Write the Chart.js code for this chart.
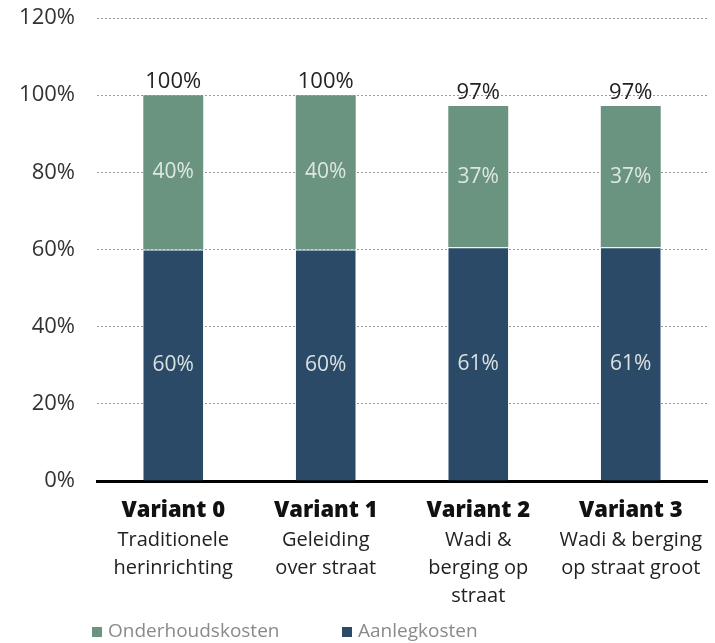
<!DOCTYPE html>
<html>
<head>
<meta charset="utf-8">
<script src="https://cdn.jsdelivr.net/npm/chart.js@4.4.1/dist/chart.umd.min.js"></script>
<style>
html,body{margin:0;padding:0;background:#fff;}
#wrap{width:715px;height:643px;position:relative;}
</style>
</head>
<body>
<div id="wrap"><canvas id="c" width="715" height="643"></canvas></div>
<script>
const variantNames = ["Variant 0", "Variant 1", "Variant 2", "Variant 3"];
const variantDescriptions = [
  ["Traditionele", "herinrichting"],
  ["Geleiding", "over straat"],
  ["Wadi &", "berging op", "straat"],
  ["Wadi & berging", "op straat groot"]
];
const aanlegkosten = [60, 60, 60.6, 60.6];
const onderhoudskosten = [40, 40, 36.6, 36.6];
const yTicks = [0, 20, 40, 60, 80, 100, 120];

const FONT = "'Open Sans', 'Noto Sans', sans-serif";

const labelsPlugin = {
  id: 'customLabels',
  afterDatasetsDraw(chart) {
    const ctx = chart.ctx;
    ctx.save();
    ctx.textAlign = 'center';
    ctx.textBaseline = 'middle';
    ctx.font = "21px " + FONT;
    chart.data.datasets.forEach((ds, di) => {
      const meta = chart.getDatasetMeta(di);
      meta.data.forEach((bar, i) => {
        const v = ds.data[i];
        const cy = (bar.y + bar.base) / 2;
        ctx.fillStyle = 'rgba(232,238,235,0.92)';
        ctx.fillText(Math.round(v) + '%', bar.x, cy);
      });
    });
    // totals
    ctx.font = "22px " + FONT;
    const topMeta = chart.getDatasetMeta(chart.data.datasets.length - 1);
    topMeta.data.forEach((bar, i) => {
      let total = 0;
      chart.data.datasets.forEach(ds => total += ds.data[i]);
      ctx.fillStyle = '#222';
      ctx.textBaseline = 'alphabetic';
      ctx.fillText(Math.round(total) + '%', bar.x, bar.y - 7);
    });
    ctx.restore();
  },
  afterDraw(chart) {
    const ctx = chart.ctx;
    const xs = chart.scales.x;
    const area = chart.chartArea;
    ctx.save();
    ctx.textAlign = 'center';
    ctx.textBaseline = 'middle';
    variantNames.forEach((name, i) => {
      const x = xs.getPixelForValue(i);
      ctx.fillStyle = '#111';
      ctx.font = "800 22px " + FONT;
      ctx.fillText(name, x, area.bottom + 30);
      ctx.font = "20px " + FONT;
      ctx.fillStyle = '#222';
      variantDescriptions[i].forEach((line, j) => {
        ctx.fillText(line, x, area.bottom + 59 + j * 28);
      });
    });
    // legend
    const items = [
      {text: chart.data.datasets[1].label, color: chart.data.datasets[1].backgroundColor, x: 92},
      {text: chart.data.datasets[0].label, color: chart.data.datasets[0].backgroundColor, x: 342}
    ];
    const ly = 632;
    ctx.textAlign = 'left';
    ctx.font = "19px " + FONT;
    items.forEach(it => {
      ctx.fillStyle = it.color;
      ctx.fillRect(it.x, ly - 5, 10, 10);
      ctx.fillStyle = '#8a8a8a';
      ctx.fillText(it.text, it.x + 16, ly);
    });
    ctx.restore();
  }
};

new Chart(document.getElementById('c'), {
  type: 'bar',
  data: {
    labels: variantNames,
    datasets: [
      {
        label: 'Aanlegkosten',
        data: aanlegkosten,
        backgroundColor: '#2b4a67',
        borderColor: '#ffffff',
        borderWidth: {top: 1, left: 0, right: 0, bottom: 0},
        borderSkipped: false,
        categoryPercentage: 1,
        barPercentage: 0.393
      },
      {
        label: 'Onderhoudskosten',
        data: onderhoudskosten,
        backgroundColor: '#6a9480',
        borderWidth: 0,
        categoryPercentage: 1,
        barPercentage: 0.393
      }
    ]
  },
  options: {
    responsive: false,
    animation: false,
    devicePixelRatio: 1,
    layout: {padding: {top: 18, left: 0, right: 8, bottom: 162}},
    plugins: {
      legend: {display: false},
      tooltip: {enabled: false}
    },
    scales: {
      x: {
        stacked: true,
        ticks: {display: false},
        grid: {display: false},
        border: {display: true, color: '#000', width: 3},
        afterFit(scale) { scale.height = 0; scale.paddingLeft = 0; scale.paddingRight = 0; }
      },
      y: {
        stacked: true,
        min: 0,
        max: 120,
        afterBuildTicks(scale) { scale.ticks = yTicks.map(v => ({value: v})); },
        ticks: {
          padding: 22,
          color: '#333',
          font: {family: FONT, size: 22},
          callback: v => v + '%'
        },
        grid: {
          drawTicks: false,
          color: ctx => ctx.tick && ctx.tick.value === 0 ? 'rgba(0,0,0,0)' : '#9a9a9a',
          lineWidth: 1
        },
        border: {display: false, dash: [2, 2]},
        afterFit(scale) { scale.width = 97; scale.paddingTop = 0; scale.paddingBottom = 0; }
      }
    }
  },
  plugins: [labelsPlugin]
});
</script>
</body>
</html>
